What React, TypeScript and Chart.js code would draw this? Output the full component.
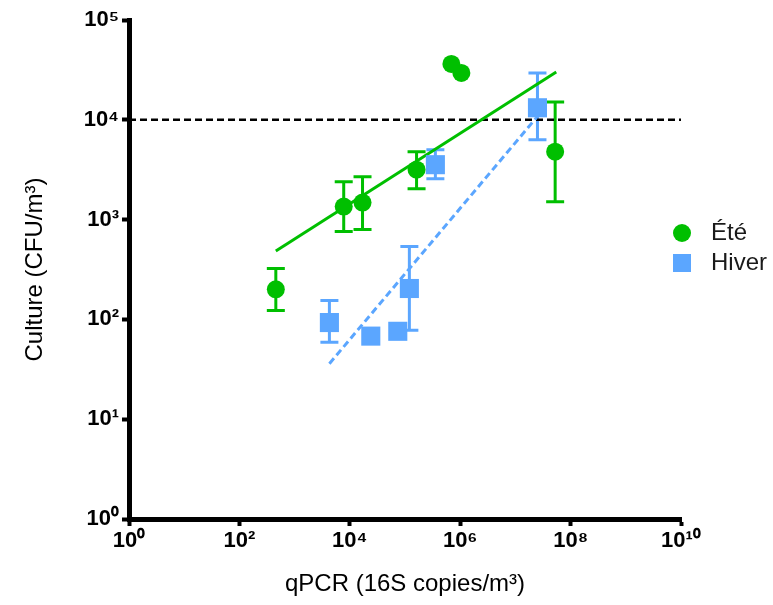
import React, { useEffect, useRef } from 'react';
import { Chart, registerables } from 'chart.js';

Chart.register(...registerables);

// ---- Data ----
const ETE_X = [457, 7760, 17000, 162000, 692000, 1050000, 52500000];
const ETE_Y = [200, 1350, 1480, 3160, 36300, 29500, 4790];
const ETE_LOW = [123, 760, 794, 2040, null, null, 1510];
const ETE_HIGH = [324, 2400, 2690, 4790, null, null, 15100];

const HIVER_X = [4270, 24000, 74000, 120000, 355000, 25100000];
const HIVER_Y = [93, 68, 76, 204, 3550, 13200];
const HIVER_LOW = [59, null, null, 78, 2570, 6310];
const HIVER_HIGH = [155, null, null, 537, 5010, 29500];

const ETE_FIT_X = [457, 55000000];
const ETE_FIT_Y = [484, 30200];
const HIVER_FIT_X = [4270, 24000000];
const HIVER_FIT_Y = [36, 10500];

const THRESHOLD_X = [1, 1e10];
const THRESHOLD_Y = [10000, 10000];

const X_TICKS = [1, 1e2, 1e4, 1e6, 1e8, 1e10];
const X_TICK_LABELS = ['10⁰', '10²', '10⁴', '10⁶', '10⁸', '10¹⁰'];
const Y_TICKS = [1, 10, 100, 1000, 10000, 100000];
const Y_TICK_LABELS = ['10⁰', '10¹', '10²', '10³', '10⁴', '10⁵'];

const SERIES_NAMES = ['Été', 'Hiver'];
const X_TITLE = 'qPCR (16S copies/m³)';
const Y_TITLE = 'Culture (CFU/m³)';

const GREEN = '#00BF00';
const BLUE = '#5BA6FF';
const FONT = "'Liberation Sans', Arial, Helvetica, sans-serif";

const toPoints = (xs: number[], ys: number[]) => xs.map((x, i) => ({ x, y: ys[i] }));

const ERRORS: Record<number, { low: (number | null)[]; high: (number | null)[] }> = {
  0: { low: ETE_LOW, high: ETE_HIGH },
  1: { low: HIVER_LOW, high: HIVER_HIGH },
};

const errorBarPlugin = {
  id: 'errorBars',
  beforeDatasetsDraw(chart: any) {
    const { ctx, scales } = chart;
    const xs = scales.x;
    const ys = scales.y;
    const cap = 9;
    Object.keys(ERRORS).forEach((k) => {
      const i = Number(k);
      const ds = chart.data.datasets[i];
      const eb = ERRORS[i];
      ctx.save();
      ctx.strokeStyle = ds.backgroundColor;
      ctx.lineWidth = 3;
      ds.data.forEach((p: any, j: number) => {
        const lo = eb.low[j];
        const hi = eb.high[j];
        if (lo == null || hi == null) return;
        const px = xs.getPixelForValue(p.x);
        const yl = ys.getPixelForValue(lo);
        const yh = ys.getPixelForValue(hi);
        ctx.beginPath();
        ctx.moveTo(px, yl);
        ctx.lineTo(px, yh);
        ctx.moveTo(px - cap, yl);
        ctx.lineTo(px + cap, yl);
        ctx.moveTo(px - cap, yh);
        ctx.lineTo(px + cap, yh);
        ctx.stroke();
      });
      ctx.restore();
    });
  },
};

const legendPlacePlugin = {
  id: 'legendPlace',
  afterLayout(chart: any) {
    const lg = chart.legend;
    if (!lg) return;
    const ca = chart.chartArea;
    const w = lg.width;
    const h = lg.height;
    lg.left = ca.right - 22;
    lg.right = lg.left + w;
    lg.top = ca.top + 195;
    lg.bottom = lg.top + h;
  },
};

function markerCanvas(kind: 'circle' | 'rect', color: string, size: number) {
  const c = document.createElement('canvas');
  c.width = size;
  c.height = size;
  const g = c.getContext('2d')!;
  g.fillStyle = color;
  if (kind === 'circle') {
    g.beginPath();
    g.arc(size / 2, size / 2, size / 2, 0, Math.PI * 2);
    g.fill();
  } else {
    g.fillRect(0, 0, size, size);
  }
  return c;
}

export default function App() {
  const ref = useRef<HTMLCanvasElement | null>(null);

  useEffect(() => {
    if (!ref.current) return;
    const markers = [markerCanvas('circle', GREEN, 18), markerCanvas('rect', BLUE, 18)];
    const tickFont = { family: FONT, size: 22, weight: 'bold' };
    const titleFont = { family: FONT, size: 24 };

    const chart = new Chart(ref.current, {
      type: 'scatter',
      data: {
        datasets: [
          {
            label: SERIES_NAMES[0],
            data: toPoints(ETE_X, ETE_Y),
            backgroundColor: GREEN,
            borderColor: GREEN,
            pointStyle: 'circle',
            pointRadius: 9,
            pointBorderWidth: 0,
            showLine: false,
          },
          {
            label: SERIES_NAMES[1],
            data: toPoints(HIVER_X, HIVER_Y),
            backgroundColor: BLUE,
            borderColor: BLUE,
            pointStyle: 'rect',
            pointRadius: 13.5,
            pointBorderWidth: 0,
            showLine: false,
          },
          {
            label: 'fit-ete',
            data: toPoints(ETE_FIT_X, ETE_FIT_Y),
            borderColor: GREEN,
            backgroundColor: GREEN,
            borderWidth: 3,
            pointRadius: 0,
            showLine: true,
          },
          {
            label: 'fit-hiver',
            data: toPoints(HIVER_FIT_X, HIVER_FIT_Y),
            borderColor: BLUE,
            backgroundColor: BLUE,
            borderWidth: 3,
            borderDash: [7, 4],
            pointRadius: 0,
            showLine: true,
          },
          {
            label: 'seuil',
            data: toPoints(THRESHOLD_X, THRESHOLD_Y),
            borderColor: '#000',
            backgroundColor: '#000',
            borderWidth: 2.5,
            borderDash: [7, 4],
            pointRadius: 0,
            showLine: true,
          },
        ],
      },
      options: {
        animation: false,
        responsive: false,
        layout: { padding: { left: 17, top: 20, right: 92, bottom: 2 } },
        plugins: {
          tooltip: { enabled: false },
          legend: {
            position: 'chartArea',
            align: 'start',
            labels: {
              usePointStyle: true,
              pointStyleWidth: 34,
              boxWidth: 34,
              boxHeight: 18,
              padding: 6,
              color: '#1a1a1a',
              font: { family: FONT, size: 24 },
              generateLabels: (c: any) =>
                (Chart.defaults.plugins.legend.labels.generateLabels as any)(c)
                  .filter((it: any) => it.datasetIndex < 2)
                  .map((it: any) => ({ ...it, pointStyle: markers[it.datasetIndex] })),
            },
          },
        },
        scales: {
          x: {
            type: 'logarithmic',
            position: 'bottom',
            min: 1,
            max: 1e10,
            afterBuildTicks: (s: any) => {
              s.ticks = X_TICKS.map((v) => ({ value: v }));
            },
            afterFit: (s: any) => {
              s.height = 84;
            },
            ticks: {
              autoSkip: false,
              maxRotation: 0,
              padding: 2,
              color: '#000',
              font: tickFont,
              callback: (v: any) => X_TICK_LABELS[X_TICKS.indexOf(Number(v))] ?? '',
            },
            grid: {
              drawOnChartArea: false,
              drawTicks: true,
              tickLength: 7,
              tickWidth: 4,
              tickColor: '#000',
              color: '#000',
            },
            border: { display: true, width: 5, color: '#000' },
            title: { display: true, text: X_TITLE, color: '#000', font: titleFont, padding: { top: 4, bottom: 4 } },
          },
          y: {
            type: 'logarithmic',
            position: 'left',
            min: 1,
            max: 1e5,
            afterBuildTicks: (s: any) => {
              s.ticks = Y_TICKS.map((v) => ({ value: v }));
            },
            afterFit: (s: any) => {
              s.width = 112;
            },
            ticks: {
              autoSkip: false,
              padding: 3,
              color: '#000',
              font: tickFont,
              callback: (v: any) => Y_TICK_LABELS[Y_TICKS.indexOf(Number(v))] ?? '',
            },
            grid: {
              drawOnChartArea: false,
              drawTicks: true,
              tickLength: 7,
              tickWidth: 4,
              tickColor: '#000',
              color: '#000',
            },
            border: { display: true, width: 5, color: '#000' },
            title: { display: true, text: Y_TITLE, color: '#000', font: titleFont, padding: { top: 4, bottom: 4 } },
          },
        },
      } as any,
      plugins: [errorBarPlugin, legendPlacePlugin],
    });
    return () => chart.destroy();
  }, []);

  return (
    <div style={{ position: 'absolute', left: 0, top: 0, width: 773, height: 605 }}>
      <canvas ref={ref} width={773} height={605} style={{ display: 'block' }} />
    </div>
  );
}
